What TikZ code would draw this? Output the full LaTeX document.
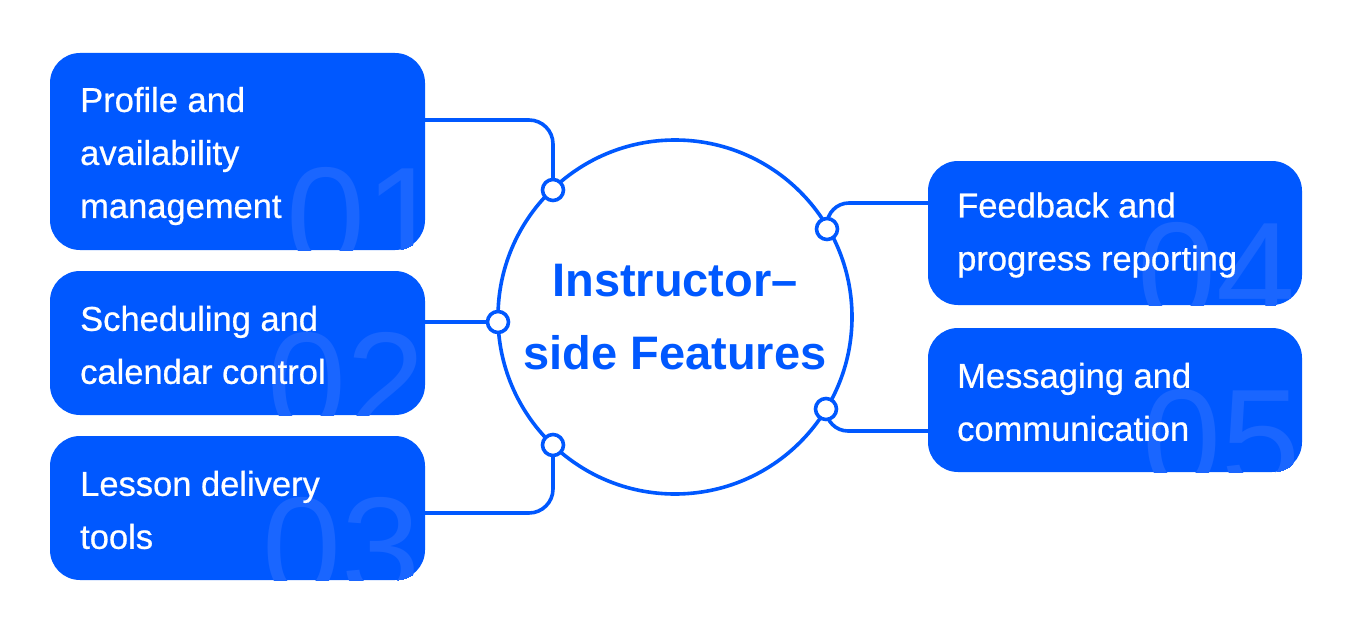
\documentclass[tikz,border=0pt]{standalone}
\usepackage{fontspec}
\setmainfont{Liberation Sans}
\newfontfamily\cardfont[FakeBold=0.6]{Liberation Sans}
\usetikzlibrary{calc}
\definecolor{mainblue}{RGB}{0,88,255}
\definecolor{numblue}{RGB}{26,102,255}
\tikzset{
  card/.style={rectangle, rounded corners=30pt, fill=mainblue, minimum width=375pt, inner sep=0pt},
  cardtext/.style={anchor=west, inner sep=0pt, text=white, align=left, font=\cardfont\fontsize{34.5}{53}\selectfont},
  bignum/.style={anchor=base west, inner sep=0pt, text=numblue, font=\fontsize{142}{142}\selectfont},
  link/.style={draw=mainblue, line width=3.6pt},
  dot/.style={circle, draw=mainblue, fill=white, line width=3.6pt, minimum size=21pt, inner sep=0pt},
  hub/.style={circle, draw=mainblue, line width=3.6pt, minimum size=354pt, inner sep=0pt, text=mainblue, align=center, font=\fontsize{47}{73}\selectfont\bfseries}
}
\begin{document}
\begin{tikzpicture}[x=1pt,y=-1pt]
\useasboundingbox (0,0) rectangle (1352,634);
% cards
\node[card, minimum height=197pt] (b1) at (237.5,151.5) {};
\node[card, minimum height=144pt] (b2) at (237.5,343) {};
\node[card, minimum height=144pt] (b3) at (237.5,508) {};
\node[card, minimum height=144pt, minimum width=374pt] (b4) at (1115,233) {};
\node[card, minimum height=144pt, minimum width=374pt] (b5) at (1115,400) {};
% big faded numbers clipped to cards
\begin{scope}
\clip[rounded corners=30pt] (b1.south west) rectangle (b1.north east);
\node[bignum] (n1) at (286,266) {01};
\end{scope}
\begin{scope}
\clip[rounded corners=30pt] (b2.south west) rectangle (b2.north east);
\node[bignum] (n2) at (267,431) {02};
\end{scope}
\begin{scope}
\clip[rounded corners=30pt] (b3.south west) rectangle (b3.north east);
\node[bignum] (n3) at (262,596) {03};
\end{scope}
\begin{scope}
\clip[rounded corners=30pt] (b4.south west) rectangle (b4.north east);
\node[bignum] (n4) at (1137,321) {04};
\end{scope}
\begin{scope}
\clip[rounded corners=30pt] (b5.south west) rectangle (b5.north east);
\node[bignum] (n5) at (1142,488) {05};
\end{scope}
% card texts
\node[cardtext] (t1) at (80,156) {Profile and\\availability\\management};
\node[cardtext] (t2) at (80,345) {Scheduling and\\calendar control};
\node[cardtext] (t3) at (80,510) {Lesson delivery\\tools};
\node[cardtext] (t4) at (957,235) {Feedback and\\progress reporting};
\node[cardtext] (t5) at (957,402) {Messaging and\\communication};
% hub
\node[hub] (hub) at (675,317) {Instructor–\\side Features};
% dot positions on the hub
\coordinate (p1) at (553,190);
\coordinate (p2) at (498,322);
\coordinate (p3) at (553,445);
\coordinate (p4) at (827,229);
\coordinate (p5) at (826,409);
% connectors
\draw[link, rounded corners=24pt] ($(b1.east)+(0,-31.5)$) -| (p1);
\draw[link] ($(b2.east)+(0,-21)$) -- (p2);
\draw[link, rounded corners=24pt] ($(b3.east)+(0,5)$) -| (p3);
\draw[link, rounded corners=22pt] ($(b4.west)+(0,-30)$) -| (p4);
\draw[link, rounded corners=22pt] ($(b5.west)+(0,31)$) -| (p5);
% dots
\node[dot] (d1) at (p1) {};
\node[dot] (d2) at (p2) {};
\node[dot] (d3) at (p3) {};
\node[dot] (d4) at (p4) {};
\node[dot] (d5) at (p5) {};
\end{tikzpicture}
\end{document}
